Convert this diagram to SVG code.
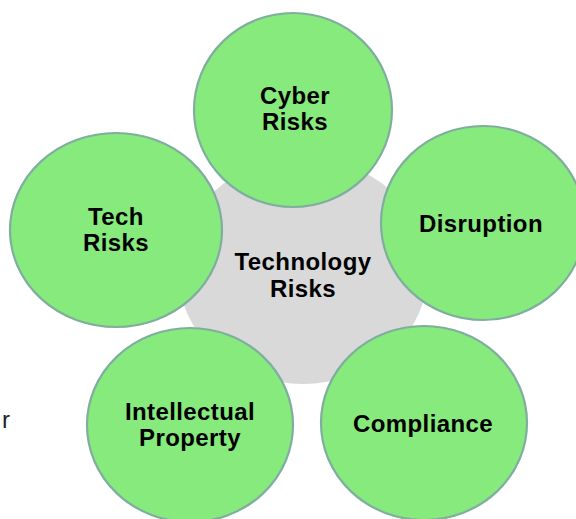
<svg xmlns="http://www.w3.org/2000/svg" width="576" height="519" viewBox="0 0 576 519">
  <style>
    .bub { fill: #87ea7d; stroke: #7fae9e; stroke-width: 2.2; }
    .lbl { font-family: "Liberation Sans", Arial, sans-serif; font-weight: bold; font-size: 24px; letter-spacing: 0.4px; fill: #000; text-anchor: middle; }
  </style>
  <rect width="576" height="519" fill="#ffffff"/>
  <g id="center">
    <ellipse cx="303" cy="271" rx="125" ry="113" fill="#d9d9d9"/>
    <text class="lbl" x="303" y="270">Technology</text>
    <text class="lbl" x="303" y="297">Risks</text>
  </g>
  <g id="cyber">
    <ellipse class="bub" cx="293" cy="110" rx="99" ry="97"/>
    <text class="lbl" x="295" y="104">Cyber</text>
    <text class="lbl" x="295" y="130">Risks</text>
  </g>
  <g id="disruption">
    <ellipse class="bub" cx="483" cy="223" rx="102" ry="97"/>
    <text class="lbl" x="481" y="232">Disruption</text>
  </g>
  <g id="compliance">
    <ellipse class="bub" cx="424" cy="423" rx="103" ry="97"/>
    <text class="lbl" x="423" y="432">Compliance</text>
  </g>
  <g id="ip">
    <ellipse class="bub" cx="190" cy="425" rx="103" ry="97"/>
    <text class="lbl" x="190" y="420">Intellectual</text>
    <text class="lbl" x="190" y="446">Property</text>
  </g>
  <g id="tech">
    <ellipse class="bub" cx="116" cy="230" rx="106" ry="97"/>
    <text class="lbl" x="116" y="225">Tech</text>
    <text class="lbl" x="116" y="251">Risks</text>
  </g>
  <g id="connectors"></g>
  <text x="2" y="428" font-family="Liberation Sans, Arial, sans-serif" font-size="24" fill="#222">r</text>
</svg>
